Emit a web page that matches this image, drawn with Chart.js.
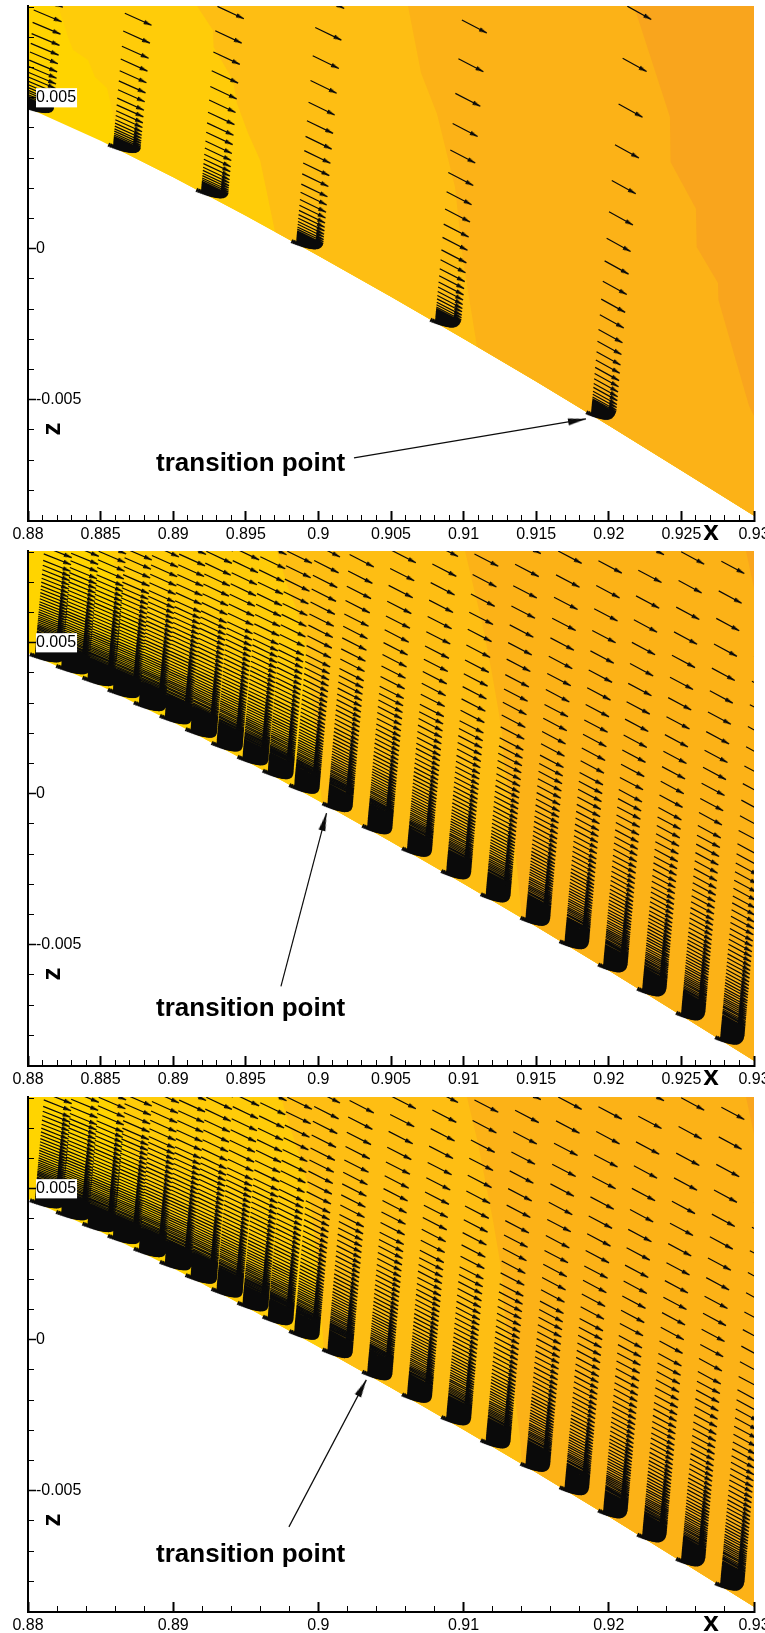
<!DOCTYPE html>
<html>
<head>
<meta charset="utf-8">
<title>transition point</title>
<script src="https://cdn.jsdelivr.net/npm/chart.js@4"></script>
<style>
html, body { margin: 0; background: #fff; }
#page { position: relative; width: 765px; height: 1633px; overflow: hidden; }
canvas { position: absolute; left: 0; }
</style>
</head>
<body>
<div id="page">
  <canvas id="painel1" width="765" height="546" style="top:0"></canvas>
  <canvas id="painel2" width="765" height="546" style="top:545px"></canvas>
  <canvas id="painel3" width="765" height="546" style="top:1091px"></canvas>
</div>
<script>
// all z values are in units of 0.001
const xMin = 0.88
const xMax = 0.93
const zMin = -9.02
const zMax = 8.04

const zTicks = [-5, 0, 5]
const zTickLabels = ['-0.005', '0', '0.005']
const xTicksFine = [0.88, 0.885, 0.89, 0.895, 0.9, 0.905, 0.91, 0.915, 0.92, 0.925, 0.93]
const xLabelsFine = ['0.88', '0.885', '0.89', '0.895', '0.9', '0.905', '0.91', '0.915', '0.92', '0.925', '0.93']
const xTicksWide = [0.88, 0.89, 0.9, 0.91, 0.92, 0.93]
const xLabelsWide = ['0.88', '0.89', '0.9', '0.91', '0.92', '0.93']

// airfoil surface
const wallX = [0.88, 0.885, 0.89, 0.895, 0.9, 0.905, 0.91, 0.915, 0.92, 0.925, 0.93]
const wallZ = [4.66, 3.58, 2.37, 1.09, -0.23, -1.59, -2.98, -4.4, -5.86, -7.35, -8.85]

const bandColors = ['#FFD400', '#FFCC09', '#FEBE13', '#FCB217', '#F9A51D']

// contour limits, panel 1
const p1LimitAX = [0.88207, 0.88275, 0.8831, 0.88413, 0.88461, 0.88544, 0.88585, 0.88606]
const p1LimitAZ = [8.04, 7.01, 6.58, 6.25, 5.69, 5.32, 4.49, 3.32]
const p1LimitBX = [0.89164, 0.89274, 0.89278, 0.89412, 0.89439, 0.89515, 0.89598, 0.89646, 0.89701]
const p1LimitBZ = [8.04, 7.24, 6.68, 5.58, 4.82, 3.83, 2.94, 1.84, 0.56]
const p1LimitCX = [0.90617, 0.90707, 0.90817, 0.90941, 0.90996, 0.91092]
const p1LimitCZ = [8.04, 5.82, 4.46, 2.04, -0.38, -3.24]
const p1LimitDX = [0.92173, 0.92421, 0.92425, 0.926, 0.92605, 0.92752, 0.92755, 0.92862, 0.92966, 0.93]
const p1LimitDZ = [8.04, 4.36, 2.87, 1.32, 0.06, -1.14, -1.7, -3.49, -5.21, -5.54]

// contour limits, panel 2
const p2LimitAX = [0.88565, 0.88668, 0.8884, 0.89047, 0.89219]
const p2LimitAZ = [8.04, 6.58, 4.59, 2.94, 1.81]
const p2LimitBX = [0.89715, 0.89784, 0.89846, 0.89908, 0.89956, 0.90025]
const p2LimitBZ = [8.04, 6.91, 6.15, 5.09, 3.1, -0.3]
const p2LimitCX = [0.9101, 0.91065, 0.91127, 0.91189, 0.91237, 0.91264, 0.91276, 0.91326, 0.91375, 0.91402]
const p2LimitCZ = [8.04, 6.91, 5.68, 4.16, 2.84, 2.04, 1.18, -0.6, -2.79, -4.12]
const p2LimitDX = [0.92945, 0.93]
const p2LimitDZ = [8.04, 6.81]

// contour limits, panel 3
const p3LimitBX = [0.89742, 0.89804, 0.89859, 0.89932, 0.89977, 0.90039]
const p3LimitBZ = [8.04, 7.04, 6.28, 5.06, 3.27, -0.34]
const p3LimitCX = [0.91023, 0.91099, 0.91202, 0.91264, 0.91278, 0.91388, 0.91402]
const p3LimitCZ = [8.04, 6.51, 3.96, 2.21, 1.08, -3.22, -4.12]

// vector stations, panel 1
const coarseFootX = [0.8798, 0.88585, 0.89191, 0.89846, 0.90803, 0.91877]
const coarseFootZ = [4.7, 3.38, 1.88, 0.18, -2.43, -5.5]
const coarseScale = [0.79, 0.82, 0.86, 1, 1.22, 1.44]
const coarseDx = [1.92, 1.84, 1.82, 1.8, 1.72, 1.65]
const coarseDz = [0.39, 0.4, 0.41, 0.42, 0.43, 0.44]

// vector stations, panels 2 and 3
const fineFootX = [0.88046, 0.88227, 0.88408, 0.88583, 0.88762, 0.88941, 0.89118, 0.89297, 0.89476, 0.8965, 0.89832,
    0.90061, 0.90335, 0.90609, 0.90879, 0.91151, 0.91425, 0.91694, 0.9196, 0.92229, 0.92497, 0.92766]
const fineFootZ = [4.56, 4.17, 3.78, 3.38, 2.95, 2.51, 2.07, 1.61, 1.15, 0.69, 0.21,
    -0.4, -1.14, -1.89, -2.64, -3.41, -4.19, -4.97, -5.74, -6.54, -7.34, -8.15]
const fineScale = [0.62, 0.65, 0.68, 0.71, 0.74, 0.76, 0.78, 0.8, 0.82, 0.84, 0.86,
    0.89, 0.92, 0.95, 0.99, 1.03, 1.07, 1.11, 1.15, 1.19, 1.23, 1.27]
const fineDx = [1.88, 1.86, 1.84, 1.82, 1.8, 1.78, 1.76, 1.74, 1.72, 1.7, 1.68,
    1.67, 1.66, 1.65, 1.64, 1.63, 1.62, 1.61, 1.6, 1.59, 1.58, 1.58]
const fineDz = [0.36, 0.37, 0.38, 0.38, 0.39, 0.39, 0.4, 0.4, 0.4, 0.4, 0.41,
    0.41, 0.41, 0.41, 0.41, 0.41, 0.41, 0.41, 0.41, 0.41, 0.41, 0.41]

// heights of the vector rows above the wall
const rowsCoarse = [9.4, 8.2, 7.15, 6.21, 5.39, 4.67, 4.06, 3.54, 3.07, 2.66, 2.3, 1.96, 1.69, 1.45, 1.26, 1.09, 0.95,
    0.83, 0.72, 0.63, 0.54, 0.47, 0.41, 0.37, 0.34, 0.31, 0.285, 0.26, 0.24, 0.22, 0.2, 0.185, 0.17, 0.155, 0.14,
    0.13, 0.12, 0.11, 0.1, 0.09, 0.08, 0.07, 0.06, 0.05, 0.04, 0.03, 0.02, 0.01, 0]
const rowsFine = [16, 14.96, 13.99, 13.08, 12.23, 11.43, 10.69, 10, 9.35, 8.74, 8.17, 7.64, 7.14, 6.68, 6.25, 5.84, 5.46,
    5.11, 4.85, 4.61, 4.38, 4.16, 3.95, 3.75, 3.57, 3.39, 3.22, 3.06, 2.9, 2.76, 2.62, 2.49, 2.36, 2.24, 2.13, 2.03,
    1.93, 1.83, 1.74, 1.65, 1.57, 1.49, 1.42, 1.34, 1.28, 1.21, 1.15, 1.09, 1.04, 0.99, 0.94, 0.89, 0.85, 0.8, 0.76,
    0.72, 0.69, 0.65, 0.62, 0.59, 0.56, 0.53, 0.51, 0.48, 0.46, 0.43, 0.41, 0.39, 0.37, 0.35, 0.33, 0.32, 0.3, 0.285,
    0.27, 0.26, 0.245, 0.23, 0.22, 0.21, 0.2, 0.19, 0.18, 0.17, 0.16, 0.15, 0.14, 0.13, 0.12, 0.11, 0.1, 0.09, 0.08,
    0.07, 0.06, 0.05, 0.04, 0.03, 0.02, 0.01, 0]
// vector length near the wall, last row first
const taperCoarse = [0.1, 0.18, 0.27, 0.35, 0.42, 0.48, 0.53, 0.58, 0.62, 0.65, 0.68, 0.71, 0.73, 0.75, 0.77, 0.8, 0.83,
    0.85, 0.87, 0.89, 0.91, 0.93, 0.95, 0.96, 0.98, 0.99]
const taperFine = [0.1, 0.18, 0.27, 0.35, 0.42, 0.48, 0.53, 0.58, 0.62, 0.65, 0.68, 0.71, 0.73, 0.75, 0.77, 0.79, 0.81,
    0.82, 0.84, 0.85, 0.87, 0.88, 0.89, 0.9, 0.915, 0.93, 0.94, 0.95, 0.96, 0.97, 0.975, 0.98, 0.985, 0.99, 0.995]
const stationLean = 0.185

// text and transition arrow
const noteX = 0.88882
const noteZ = -7.35
const xLetterX = 0.92704
const xLetterZ = -9.48
const zLetterX = 0.88186
const zLetterZ = -5.97
const pointerTailX = [0.90245, 0.89742, 0.89797]
const pointerTailZ = [-6.93, -6.38, -6.2]
const pointerTipX = [0.91843, 0.90056, 0.9033]
const pointerTipZ = [-5.64, -0.64, -1.33]

function makeHead(length, width) {
    // the tip sits on the centre of the canvas so that it lands on the data point
    const c = document.createElement('canvas')
    c.width = c.height = length * 2 + 2
    const g = c.getContext('2d')
    const m = c.width / 2
    g.fillStyle = '#0a0a0a'
    g.beginPath()
    g.moveTo(m, m)
    g.lineTo(m + width / 2, m + length)
    g.lineTo(m - width / 2, m + length)
    g.closePath()
    g.fill()
    return c
}
const smallHead = makeHead(8, 4.4)
const bigHead = makeHead(18, 7)

function headAngle(ctx) {
    const { x, y } = ctx.chart.scales
    const r = ctx.raw
    const dx = x.getPixelForValue(r.x) - x.getPixelForValue(r.fromX)
    const dy = y.getPixelForValue(r.y) - y.getPixelForValue(r.fromZ)
    return Math.atan2(dx, -dy) * 180 / Math.PI
}

function toPoints(xs, zs) {
    return xs.map((x, i) => ({ x: x, y: zs[i] }))
}

// a contour limit runs down to the wall and then follows it to the right
function bandDataset(xs, zs, color) {
    const last = xs[xs.length - 1]
    const pts = toPoints(xs, zs)
    wallX.forEach((x, i) => {
        if (x > last) pts.push({ x: x, y: wallZ[i] })
    })
    return { data: pts, showLine: true, fill: 'end', backgroundColor: color, borderWidth: 0, pointRadius: 0 }
}

function vectorDatasets(footX, footZ, scale, dxs, dzs, rows, taper) {
    const shafts = []
    const heads = []
    footX.forEach((fx, s) => {
        rows.forEach((row, r) => {
            const h = row * scale[s]
            const tailX = fx + stationLean * h * 0.001
            const tailZ = footZ[s] + h
            const fromEnd = rows.length - 1 - r
            const k = fromEnd < taper.length ? taper[fromEnd] : 1
            const tipX = tailX + dxs[s] * k * 0.001
            const tipZ = tailZ - dzs[s] * k
            shafts.push({ x: tailX, y: tailZ }, { x: tipX, y: tipZ }, { x: null, y: null })
            heads.push({ x: tipX, y: tipZ, fromX: tailX, fromZ: tailZ })
        })
    })
    return [
        { data: shafts, showLine: true, spanGaps: false, borderColor: '#0a0a0a', borderWidth: 1.2, pointRadius: 0, fill: false },
        { data: heads, showLine: false, pointStyle: smallHead, pointRadius: 2, rotation: headAngle, fill: false }
    ]
}

function pointerDatasets(n) {
    const tip = { x: pointerTipX[n], y: pointerTipZ[n], fromX: pointerTailX[n], fromZ: pointerTailZ[n] }
    return [
        { data: [{ x: pointerTailX[n], y: pointerTailZ[n] }, tip], showLine: true, borderColor: '#0c0c0c', borderWidth: 1.2, pointRadius: 0, fill: false },
        { data: [tip], showLine: false, pointStyle: bigHead, pointRadius: 2, rotation: headAngle, fill: false }
    ]
}

const notesPlugin = {
    id: 'notes',
    afterDraw(chart) {
        const { ctx, scales } = chart
        ctx.save()
        ctx.fillStyle = '#000'
        ctx.textBaseline = 'alphabetic'
        ctx.textAlign = 'left'
        ctx.font = 'bold 26px "Liberation Sans"'
        ctx.fillText('transition point', scales.x.getPixelForValue(noteX), scales.y.getPixelForValue(noteZ))
        ctx.textAlign = 'center'
        ctx.textBaseline = 'middle'
        ctx.font = 'bold 28px "Liberation Sans"'
        ctx.fillText('x', scales.x.getPixelForValue(xLetterX), scales.y.getPixelForValue(xLetterZ) - 3)
        ctx.translate(scales.x.getPixelForValue(zLetterX), scales.y.getPixelForValue(zLetterZ))
        ctx.rotate(-Math.PI / 2)
        ctx.font = 'bold 26px "Liberation Sans"'
        ctx.fillText('z', 0, -2)
        ctx.restore()
    }
}

function makeChart(id, datasets, xTicks, xLabels, xMinorStep) {
    const black = '#000'
    const labelFont = { family: '"Liberation Sans"', size: 16 }
    return new Chart(document.getElementById(id), {
        type: 'scatter',
        data: { datasets: datasets },
        plugins: [notesPlugin],
        options: {
            responsive: false,
            animation: false,
            events: [],
            devicePixelRatio: 1,
            layout: { padding: { left: 28, right: 11, top: 6, bottom: 0 } },
            plugins: { legend: { display: false }, tooltip: { enabled: false } },
            scales: {
                x: {
                    type: 'linear', min: xMin, max: xMax, position: 'bottom',
                    grid: { drawOnChartArea: false, tickLength: -10, tickWidth: 2, tickColor: black, z: 1 },
                    border: { color: black, width: 2, z: 1 },
                    afterBuildTicks: s => { s.ticks = xTicks.map(v => ({ value: v })) },
                    afterFit: s => { s.height = 25; s.paddingLeft = 0; s.paddingRight = 0 },
                    ticks: {
                        color: black, font: labelFont, autoSkip: false, maxRotation: 0, padding: 14, z: 2,
                        callback: (v, i) => xLabels[i]
                    }
                },
                xMinor: {
                    type: 'linear', axis: 'x', min: xMin, max: xMax, position: 'bottom', weight: -1,
                    grid: { drawOnChartArea: false, tickLength: -6, tickWidth: 1, tickColor: black, z: 1 },
                    border: { display: false },
                    afterFit: s => { s.height = 0; s.paddingLeft = 0; s.paddingRight = 0 },
                    ticks: { display: false, stepSize: xMinorStep, autoSkip: false, includeBounds: false }
                },
                y: {
                    type: 'linear', min: zMin, max: zMax, position: 'left',
                    grid: { drawOnChartArea: false, tickLength: -8, tickWidth: 1.5, tickColor: black, z: 1 },
                    border: { color: black, width: 2, z: 1 },
                    afterBuildTicks: s => { s.ticks = zTicks.map(v => ({ value: v })) },
                    afterFit: s => { s.width = 0; s.paddingTop = 0; s.paddingBottom = 0 },
                    ticks: {
                        color: black, font: labelFont, mirror: true, padding: 8, autoSkip: false, z: 2,
                        showLabelBackdrop: ctx => ctx.tick && ctx.tick.value === 5,
                        backdropColor: '#fff',
                        backdropPadding: { top: 0, bottom: 0, left: 0, right: 1 },
                        callback: (v, i) => zTickLabels[i]
                    }
                },
                yMinor: {
                    type: 'linear', axis: 'y', min: zMin, max: zMax, position: 'left',
                    grid: { drawOnChartArea: false, tickLength: -6, tickWidth: 1, tickColor: black, z: 1 },
                    border: { display: false },
                    afterFit: s => { s.width = 0; s.paddingTop = 0; s.paddingBottom = 0 },
                    ticks: { display: false, stepSize: 1, autoSkip: false, includeBounds: false }
                }
            }
        }
    })
}

// the first dataset is painted last, so the vectors come first and the base colour last
makeChart('painel1', [
    ...pointerDatasets(0),
    ...vectorDatasets(coarseFootX, coarseFootZ, coarseScale, coarseDx, coarseDz, rowsCoarse, taperCoarse),
    bandDataset(p1LimitDX, p1LimitDZ, bandColors[4]),
    bandDataset(p1LimitCX, p1LimitCZ, bandColors[3]),
    bandDataset(p1LimitBX, p1LimitBZ, bandColors[2]),
    bandDataset(p1LimitAX, p1LimitAZ, bandColors[1]),
    bandDataset(wallX, wallZ, bandColors[0])
], xTicksFine, xLabelsFine, 0.001)

makeChart('painel2', [
    ...pointerDatasets(1),
    ...vectorDatasets(fineFootX, fineFootZ, fineScale, fineDx, fineDz, rowsFine, taperFine),
    bandDataset(p2LimitDX, p2LimitDZ, bandColors[4]),
    bandDataset(p2LimitCX, p2LimitCZ, bandColors[3]),
    bandDataset(p2LimitBX, p2LimitBZ, bandColors[2]),
    bandDataset(p2LimitAX, p2LimitAZ, bandColors[1]),
    bandDataset(wallX, wallZ, bandColors[0])
], xTicksFine, xLabelsFine, 0.001)

makeChart('painel3', [
    ...pointerDatasets(2),
    ...vectorDatasets(fineFootX, fineFootZ, fineScale, fineDx, fineDz, rowsFine, taperFine),
    bandDataset(p2LimitDX, p2LimitDZ, bandColors[4]),
    bandDataset(p3LimitCX, p3LimitCZ, bandColors[3]),
    bandDataset(p3LimitBX, p3LimitBZ, bandColors[2]),
    bandDataset(p2LimitAX, p2LimitAZ, bandColors[1]),
    bandDataset(wallX, wallZ, bandColors[0])
], xTicksWide, xLabelsWide, 0.002)
</script>
</body>
</html>
